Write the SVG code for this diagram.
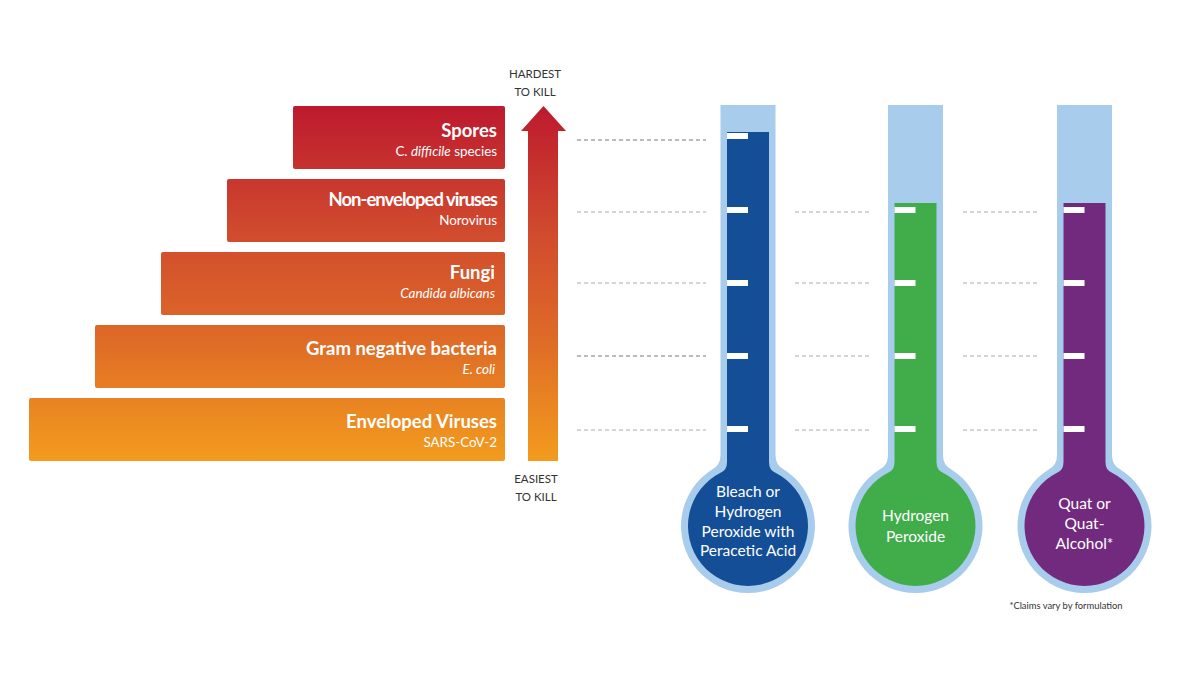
<svg xmlns="http://www.w3.org/2000/svg" width="1200" height="678" viewBox="0 0 1200 678">
<defs>
<linearGradient id="heat" gradientUnits="userSpaceOnUse" x1="0" y1="106" x2="0" y2="462">
<stop offset="0" stop-color="#bd1a2e"/>
<stop offset="0.35" stop-color="#d04a2e"/>
<stop offset="0.65" stop-color="#de6a27"/>
<stop offset="1" stop-color="#f39c1e"/>
</linearGradient>
<style>
.bar{fill:url(#heat)}
.t{font-family:Lato,"Open Sans","Liberation Sans",sans-serif;fill:#fff;text-anchor:end}
.h{font-size:18.5px;font-weight:bold}
.s{font-size:13.4px}
.ax{font-family:Lato,"Liberation Sans",sans-serif;font-size:11.5px;fill:#333;text-anchor:middle}
.bt{font-family:Lato,"Open Sans","Liberation Sans",sans-serif;font-size:15.5px;fill:#fff;text-anchor:middle}
.glass{fill:#a8cceb}
.tick{fill:#fff}
.dash{stroke:#aaa;stroke-width:1;stroke-dasharray:4 3;fill:none}
.dk{stroke:#777}
</style>
</defs>
<rect width="1200" height="678" fill="#fff"/>

<g id="connectors">
<line class="dash dk" x1="577" y1="140" x2="706" y2="140"/>
<line class="dash" x1="577" y1="212" x2="706" y2="212"/>
<line class="dash" x1="577" y1="283" x2="706" y2="283"/>
<line class="dash dk" x1="577" y1="356" x2="706" y2="356"/>
<line class="dash" x1="577" y1="430" x2="706" y2="430"/>
<line class="dash" x1="795" y1="212" x2="872" y2="212"/>
<line class="dash" x1="795" y1="283" x2="872" y2="283"/>
<line class="dash" x1="795" y1="356" x2="872" y2="356"/>
<line class="dash" x1="795" y1="430" x2="872" y2="430"/>
<line class="dash" x1="963" y1="212" x2="1040" y2="212"/>
<line class="dash" x1="963" y1="283" x2="1040" y2="283"/>
<line class="dash" x1="963" y1="356" x2="1040" y2="356"/>
<line class="dash" x1="963" y1="430" x2="1040" y2="430"/>
</g>

<g id="spores">
<rect class="bar" x="293" y="106" width="212" height="63" rx="2"/>
<text class="t h" x="497" y="137">Spores</text>
<text class="t s" x="497" y="156">C. <tspan font-style="italic">difficile</tspan> species</text>
</g>
<g id="non-enveloped">
<rect class="bar" x="227" y="179" width="278" height="63" rx="2"/>
<text class="t h" x="497" y="206" letter-spacing="-1">Non-enveloped viruses</text>
<text class="t s" x="497" y="225">Norovirus</text>
</g>
<g id="fungi">
<rect class="bar" x="161" y="252" width="344" height="63" rx="2"/>
<text class="t h" x="495" y="279">Fungi</text>
<text class="t s" x="495" y="298" font-style="italic">Candida albicans</text>
</g>
<g id="gram-negative">
<rect class="bar" x="95" y="325" width="410" height="63" rx="2"/>
<text class="t h" x="497" y="355">Gram negative bacteria</text>
<text class="t s" x="495" y="374" font-style="italic">E. coli</text>
</g>
<g id="enveloped">
<rect class="bar" x="29" y="398" width="476" height="63" rx="2"/>
<text class="t h" x="497" y="428">Enveloped Viruses</text>
<text class="t s" x="497" y="447">SARS-CoV-2</text>
</g>

<g id="kill-arrow">
<path class="bar" d="M528,461 V131 H521 L543.5,106 L566,131 H558 V461 Z"/>
<text class="ax" x="535" y="78">HARDEST</text>
<text class="ax" x="535" y="96">TO KILL</text>
<text class="ax" x="536" y="483">EASIEST</text>
<text class="ax" x="536" y="501">TO KILL</text>
</g>

<g id="thermo-bleach">
<path class="glass" d="M720.5,105 H775.5 V455 Q775.5,465 783.5,469.2 A67,67 0 1 1 712.5,469.2 Q720.5,465 720.5,455 Z"/>
<path fill="#134e97" d="M727,132 H769 V462 Q769,470 775,472.4 A60,60 0 1 1 721,472.4 Q727,470 727,462 Z"/>
<rect class="tick" x="727" y="133" width="21" height="6"/>
<rect class="tick" x="727" y="207" width="21" height="6"/>
<rect class="tick" x="727" y="280" width="21" height="6"/>
<rect class="tick" x="727" y="353" width="21" height="6"/>
<rect class="tick" x="727" y="426" width="21" height="6"/>
<text class="bt" x="748" y="497">Bleach or</text>
<text class="bt" x="748" y="517">Hydrogen</text>
<text class="bt" x="748" y="537">Peroxide with</text>
<text class="bt" x="748" y="556">Peracetic Acid</text>
</g>

<g id="thermo-peroxide">
<path class="glass" d="M888,105 H943 V455 Q943,465 951,469.2 A67,67 0 1 1 880,469.2 Q888,465 888,455 Z"/>
<path fill="#40ad4a" d="M894.5,203 H936.5 V462 Q936.5,470 942.5,472.4 A60,60 0 1 1 888.5,472.4 Q894.5,470 894.5,462 Z"/>
<rect class="tick" x="894.5" y="207" width="21" height="6"/>
<rect class="tick" x="894.5" y="280" width="21" height="6"/>
<rect class="tick" x="894.5" y="353" width="21" height="6"/>
<rect class="tick" x="894.5" y="426" width="21" height="6"/>
<text class="bt" x="915.5" y="521">Hydrogen</text>
<text class="bt" x="915.5" y="542">Peroxide</text>
</g>

<g id="thermo-quat">
<path class="glass" d="M1057,105 H1112 V455 Q1112,465 1120,469.2 A67,67 0 1 1 1049,469.2 Q1057,465 1057,455 Z"/>
<path fill="#722a7e" d="M1063.5,203 H1105.5 V462 Q1105.5,470 1111.5,472.4 A60,60 0 1 1 1057.5,472.4 Q1063.5,470 1063.5,462 Z"/>
<rect class="tick" x="1063.5" y="207" width="21" height="6"/>
<rect class="tick" x="1063.5" y="280" width="21" height="6"/>
<rect class="tick" x="1063.5" y="353" width="21" height="6"/>
<rect class="tick" x="1063.5" y="426" width="21" height="6"/>
<text class="bt" x="1084.5" y="509">Quat or</text>
<text class="bt" x="1084.5" y="529">Quat-</text>
<text class="bt" x="1084.5" y="549">Alcohol*</text>
</g>

<g id="footnote">
<text x="1066" y="609" font-family="Lato,'Liberation Sans',sans-serif" font-size="9.4px" fill="#333" text-anchor="middle">*Claims vary by formulation</text>
</g>
</svg>
